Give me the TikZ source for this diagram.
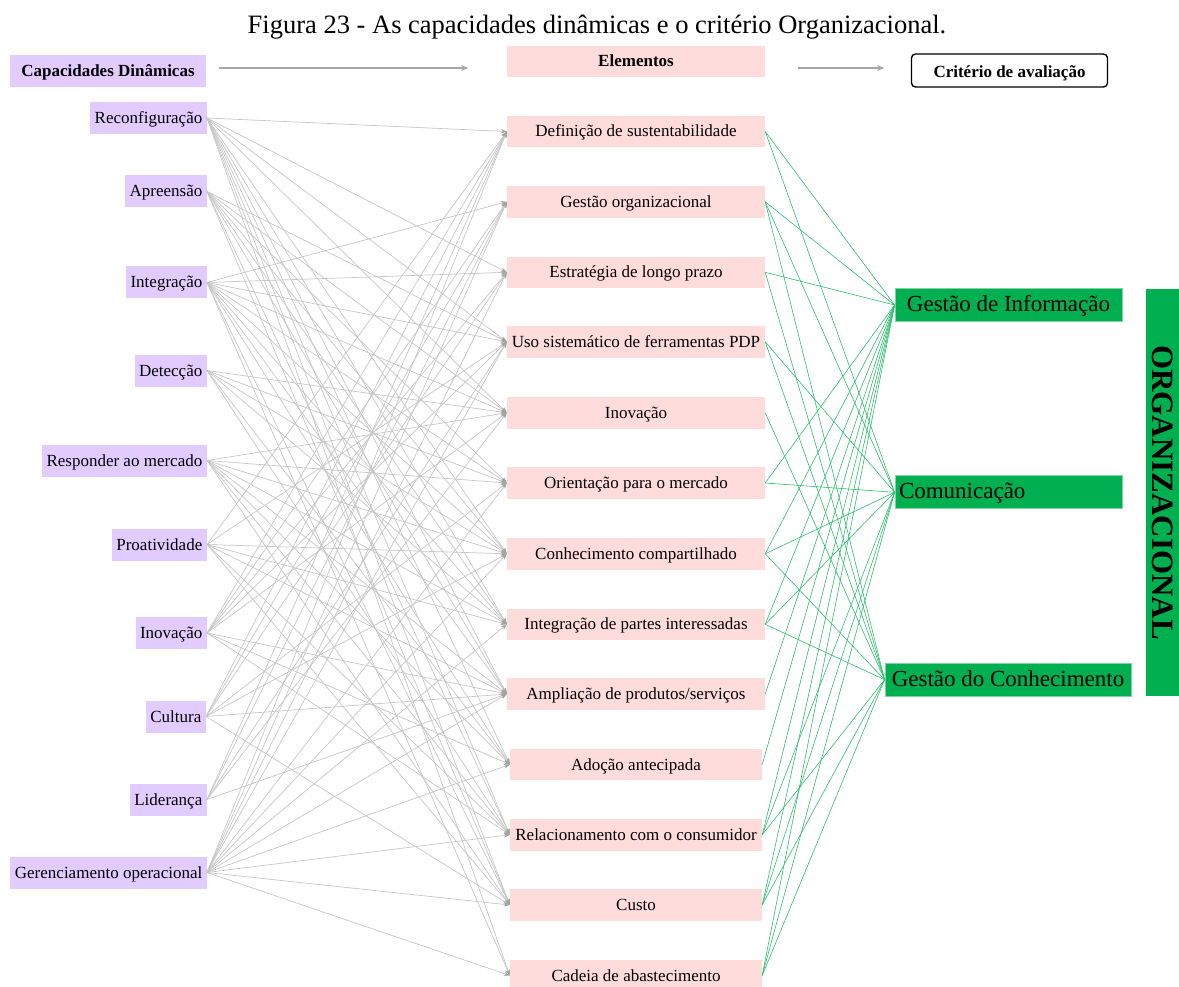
\documentclass[tikz,border=0pt]{standalone}
\usepackage{fontspec}
\setmainfont{Liberation Serif}
\usetikzlibrary{arrows.meta}
\definecolor{capfill}{HTML}{E2CCFF}
\definecolor{elfill}{HTML}{FFDCDC}
\definecolor{critgreen}{HTML}{00B050}
\definecolor{critline}{HTML}{7FD3A4}
\definecolor{edgegray}{HTML}{C6C6C6}
\definecolor{tipgray}{HTML}{A3A3A3}
\definecolor{hdrgray}{HTML}{A6A6A6}
\definecolor{linkgreen}{HTML}{2DBE6C}
\begin{document}
\begin{tikzpicture}[x=1pt,y=-1pt,
  lbl/.style={font=\fontsize{17}{19}\selectfont, text height=13pt, text depth=2pt},
  hdr/.style={font=\bfseries\fontsize{17}{19}\selectfont, text height=13pt, text depth=2pt},
  capbox/.style={lbl, fill=capfill, anchor=east, minimum height=32pt, inner xsep=4.5pt, inner ysep=0pt},
  elbox/.style={lbl, fill=elfill, minimum width=258pt, minimum height=31.5pt, inner sep=0pt},
  elnarrow/.style={elbox, minimum width=252pt},
  critbox/.style={font=\fontsize{23}{25}\selectfont, text height=16pt, text depth=3pt, fill=critgreen, draw=critline, line width=0.8pt, minimum height=33pt, inner sep=0pt},
  capedge/.style={draw=edgegray, line width=0.7pt, -{Stealth[length=6pt,width=4.5pt,color=tipgray]}},
  critedge/.style={draw=linkgreen, line width=0.6pt},
  hdrarrow/.style={draw=hdrgray, line width=1.8pt, -{Stealth[length=7pt,width=6pt]}},
]
\useasboundingbox (0,0) rectangle (1179,987);

% title
\node[font=\fontsize{26.5}{28}\selectfont, anchor=base] (title) at (597,33.5)
  {Figura 23 - As capacidades dinâmicas e o critério Organizacional.};

% column headers
\node[hdr, fill=capfill, minimum width=196pt, minimum height=32pt, inner sep=0pt] (hcap) at (108,71) {Capacidades Dinâmicas};
\node[hdr, fill=elfill, minimum width=258pt, minimum height=31pt, inner sep=0pt] (hel) at (636,61.5) {Elementos};
\node[hdr, text height=15pt, text depth=1.5pt, draw=black, line width=1.4pt, rounded corners=4pt, fill=white, minimum width=196pt, minimum height=33pt, inner sep=0pt] (hcrit) at (1009.5,70.5) {Critério de avaliação};
\coordinate (a1s) at (219,68);
\coordinate (a1e) at (468,68);
\coordinate (a2s) at (798,68);
\coordinate (a2e) at (884,68);
\draw[hdrarrow] (a1s) -- (a1e);
\draw[hdrarrow] (a2s) -- (a2e);

% dynamic capabilities
\node[capbox] (c1)  at (207,118)   {Reconfiguração};
\node[capbox] (c2)  at (207,191.5) {Apreensão};
\node[capbox] (c3)  at (207,282.5) {Integração};
\node[capbox] (c4)  at (207,370.5) {Detecção};
\node[capbox] (c5)  at (207,460.5) {Responder ao mercado};
\node[capbox] (c6)  at (207,544.5) {Proatividade};
\node[capbox] (c7)  at (207,633)   {Inovação};
\node[capbox] (c8)  at (206,716.5) {Cultura};
\node[capbox] (c9)  at (207,799.5) {Liderança};
\node[capbox] (c10) at (207,872.5) {Gerenciamento operacional};

% elements
\node[elbox] (e1)  at (636,131.5) {Definição de sustentabilidade};
\node[elbox] (e2)  at (636,201.8) {Gestão organizacional};
\node[elbox] (e3)  at (636,272.3) {Estratégia de longo prazo};
\node[elbox] (e4)  at (636,341.8) {Uso sistemático de ferramentas PDP};
\node[elbox] (e5)  at (636,412.8) {Inovação};
\node[elbox] (e6)  at (636,483)   {Orientação para o mercado};
\node[elbox] (e7)  at (636,553.8) {Conhecimento compartilhado};
\node[elbox] (e8)  at (636,624.3) {Integração de partes interessadas};
\node[elbox] (e9)  at (636,694)   {Ampliação de produtos/serviços};
\node[elnarrow] (e10) at (636,764.5) {Adoção antecipada};
\node[elnarrow] (e11) at (636,834.8) {Relacionamento com o consumidor};
\node[elnarrow] (e12) at (636,905)   {Custo};
\node[elnarrow] (e13) at (636,975.5) {Cadeia de abastecimento};

% evaluation criteria
\node[critbox, minimum width=227pt] (g1) at (1008.5,305) {Gestão de Informação};
\node[critbox, minimum width=227pt, text width=219pt, align=left] (g2) at (1008.5,492.3) {Comunicação};
\node[critbox, minimum width=246pt] (g3) at (1008,679.7) {Gestão do Conhecimento};
\node[fill=critgreen, rotate=-90, minimum width=407pt, minimum height=33pt, inner sep=0pt,
      font=\bfseries\fontsize{31}{31}\selectfont] (org) at (1162.5,492.5) {ORGANIZACIONAL};

% capability -> element links
\foreach \s/\tl in {
  1/{1,3,4,5,7,8,9,10,11,12,13},
  2/{4,5,6,7,8,9,11,12},
  3/{2,3,4,5,6,7,8,9,10,12,13},
  4/{5,6,7,8,10,11},
  5/{5,6,7,8,9,10,11,12},
  6/{1,4,7,8,9,11,12},
  7/{1,2,3,4,5,9,10,11},
  8/{1,2,3,6,7,9,12},
  9/{1,2,4,5,9},
  10/{1,2,3,4,6,7,8,9,10,11,12,13}}
  {\foreach \t in \tl {\draw[capedge] (c\s.east) -- (e\t.west);}}

% element -> criterion links
\foreach \e/\gl in {
  1/{1,2}, 2/{1,2,3}, 3/{1,3}, 4/{2,3}, 5/{3}, 6/{1,2}, 7/{1,2,3},
  8/{1,2,3}, 9/{1}, 10/{1}, 11/{1,2,3}, 12/{1,2,3}, 13/{1,2,3}}
  {\foreach \g in \gl {\draw[critedge] (e\e.east) -- (g\g.west);}}
\end{tikzpicture}
\end{document}
